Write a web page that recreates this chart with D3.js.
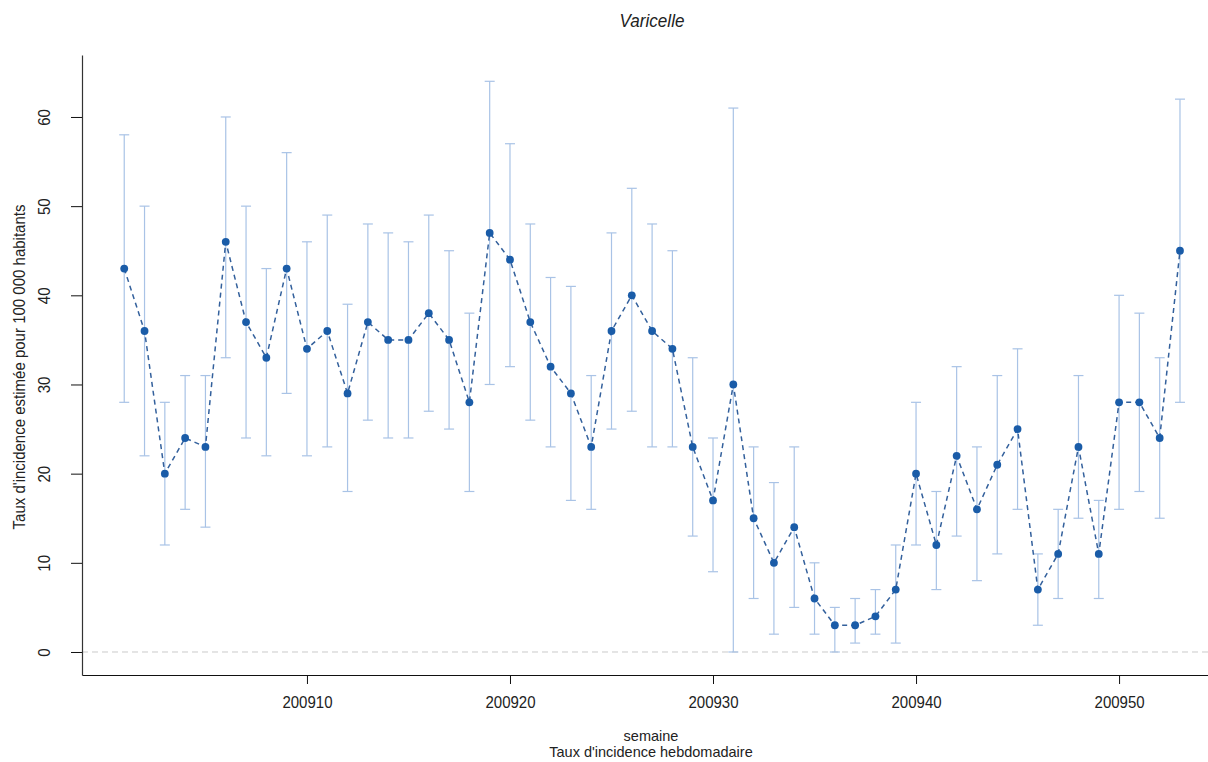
<!DOCTYPE html>
<html>
<head>
<meta charset="utf-8">
<script src="https://cdn.jsdelivr.net/npm/d3@7"></script>
<style>
  html, body { margin: 0; padding: 0; background: #fff; }
  svg { display: block; font-family: "Liberation Sans", Arial, sans-serif; }
</style>
</head>
<body>
<svg id="chart" width="1208" height="762"></svg>
<script>
// Weekly varicella incidence, 2009 (weeks 1..53)
const weeks = d3.range(1, 54);
const rate  = [43, 36, 20, 24, 23, 46, 37, 33, 43, 34, 36, 29, 37, 35, 35, 38, 35, 28, 47, 44,
               37, 32, 29, 23, 36, 40, 36, 34, 23, 17, 30, 15, 10, 14, 6, 3, 3, 4, 7, 20,
               12, 22, 16, 21, 25, 7, 11, 23, 11, 28, 28, 24, 45];
const lower = [28, 22, 12, 16, 14, 33, 24, 22, 29, 22, 23, 18, 26, 24, 24, 27, 25, 18, 30, 32,
               26, 23, 17, 16, 25, 27, 23, 23, 13, 9, 0, 6, 2, 5, 2, 0, 1, 2, 1, 12,
               7, 13, 8, 11, 16, 3, 6, 15, 6, 16, 18, 15, 28];
const upper = [58, 50, 28, 31, 31, 60, 50, 43, 56, 46, 49, 39, 48, 47, 46, 49, 45, 38, 64, 57,
               48, 42, 41, 31, 47, 52, 48, 45, 33, 24, 61, 23, 19, 23, 10, 5, 6, 7, 12, 28,
               18, 32, 23, 31, 34, 11, 16, 31, 17, 40, 38, 33, 62];
const xTicks = [10, 20, 30, 40, 50];
const yTicks = [0, 10, 20, 30, 40, 50, 60];

const title = "Varicelle";
const xTitle = ["semaine", "Taux d'incidence hebdomadaire"];
const yTitle = "Taux d'incidence estimée pour 100 000 habitants";

const rows = weeks.map((w, i) => ({ w, v: rate[i], lo: lower[i], hi: upper[i] }));

const svg = d3.select("#chart");
const plotLeft = 82, plotRight = 1208, plotTop = 55, plotBottom = 675;
const textColor = "#222";
const narrow = 0.91; // horizontal squeeze giving a condensed look to the labels

// Axis extents leave a margin on both sides of the first and last week
const x = d3.scaleLinear().domain([-1.08, 54.38]).range([plotLeft, plotRight]);
const y = d3.scaleLinear().domain([-2.58, 66.95]).range([plotBottom, plotTop]);

// Title
svg.append("text")
  .attr("transform", `translate(652,27) scale(0.95,1)`)
  .attr("text-anchor", "middle")
  .attr("font-size", 18).attr("font-style", "italic")
  .attr("fill", textColor)
  .text(title);

// Reference line at zero
svg.append("line")
  .attr("x1", plotLeft).attr("x2", plotRight)
  .attr("y1", y(0)).attr("y2", y(0))
  .attr("stroke", "#cacaca").attr("stroke-width", 1)
  .attr("stroke-dasharray", "6,4");

// Confidence intervals
const ci = svg.append("g").attr("stroke", "#a9c3e6").attr("stroke-width", 1.2);
ci.selectAll("line.bar").data(rows).join("line")
  .attr("class", "bar")
  .attr("x1", d => x(d.w)).attr("x2", d => x(d.w))
  .attr("y1", d => y(d.lo)).attr("y2", d => y(d.hi));
ci.selectAll("line.capHi").data(rows).join("line")
  .attr("class", "capHi")
  .attr("x1", d => x(d.w) - 5).attr("x2", d => x(d.w) + 5)
  .attr("y1", d => y(d.hi)).attr("y2", d => y(d.hi));
ci.selectAll("line.capLo").data(rows).join("line")
  .attr("class", "capLo")
  .attr("x1", d => x(d.w) - 5).attr("x2", d => x(d.w) + 5)
  .attr("y1", d => y(d.lo)).attr("y2", d => y(d.lo));

// Dashed connecting line
svg.append("path")
  .datum(rows)
  .attr("fill", "none")
  .attr("stroke", "#33609c")
  .attr("stroke-width", 1.5)
  .attr("stroke-dasharray", "5,4")
  .attr("d", d3.line().x(d => x(d.w)).y(d => y(d.v)));

// Points
svg.append("g").selectAll("circle").data(rows).join("circle")
  .attr("cx", d => x(d.w)).attr("cy", d => y(d.v))
  .attr("r", 3.9)
  .attr("fill", "#1a5ca8");

// X axis
const gx = svg.append("g")
  .attr("transform", `translate(0,${plotBottom})`)
  .call(d3.axisBottom(x).tickValues(xTicks).tickSize(9).tickSizeOuter(0).tickPadding(12)
    .tickFormat(d => "2009" + d));
gx.select(".domain").attr("stroke", "#111").attr("stroke-width", 1.2);
gx.selectAll(".tick line").attr("stroke", "#111");
gx.selectAll(".tick text").attr("font-size", 16.5).attr("fill", textColor)
  .attr("font-family", "'Liberation Sans', Arial, sans-serif")
  .attr("transform", `scale(${narrow},1)`);

// Y axis with vertical tick labels
const gy = svg.append("g")
  .attr("transform", `translate(${plotLeft},0)`)
  .call(d3.axisLeft(y).tickValues(yTicks).tickSize(11).tickSizeOuter(0).tickFormat(d3.format("d")));
gy.select(".domain").attr("stroke", "#333").attr("stroke-width", 1.2);
gy.selectAll(".tick line").attr("stroke", "#111");
gy.selectAll(".tick text")
  .attr("font-size", 16.5).attr("fill", textColor)
  .attr("font-family", "'Liberation Sans', Arial, sans-serif")
  .attr("x", null)
  .attr("text-anchor", "middle")
  .attr("transform", `translate(-38,0) rotate(-90) scale(${narrow},1)`)
  .attr("dy", "0.35em");

// Axis titles (two stacked lines under the x axis)
svg.append("text")
  .attr("transform", `translate(651,741)`)
  .attr("text-anchor", "middle").attr("font-size", 14.5).attr("fill", textColor)
  .text(xTitle[0]);
svg.append("text")
  .attr("transform", `translate(651,757)`)
  .attr("text-anchor", "middle").attr("font-size", 14.5).attr("fill", textColor)
  .text(xTitle[1]);
svg.append("text")
  .attr("transform", `translate(25,${(plotTop + plotBottom) / 2 + 2}) rotate(-90) scale(${narrow},1)`)
  .attr("text-anchor", "middle").attr("font-size", 16.5).attr("fill", textColor)
  .text(yTitle);
</script>
</body>
</html>
